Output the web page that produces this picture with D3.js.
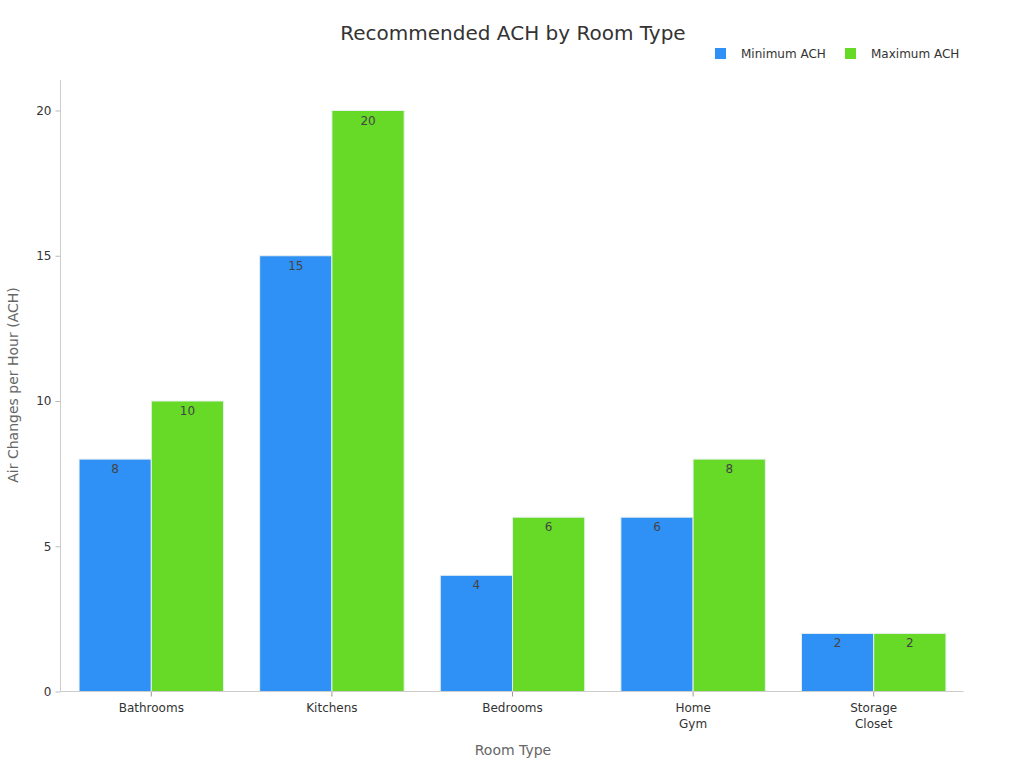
<!DOCTYPE html>
<html><head><meta charset="utf-8">
<script src="https://cdn.jsdelivr.net/npm/d3@7"></script>
<style>body{margin:0;background:#fff;font-family:"DejaVu Sans",sans-serif;}</style>
</head><body>
<svg id="c" width="1024" height="768"></svg>
<script>
const categories = ["Bathrooms", "Kitchens", "Bedrooms", "Home\nGym", "Storage\nCloset"];
const seriesNames = ["Minimum ACH", "Maximum ACH"];
const minACH = [8, 15, 4, 6, 2];
const maxACH = [10, 20, 6, 8, 2];
const yTicks = [0, 5, 10, 15, 20];
const colors = ["#2F91F5", "#66DA26"];

const svg = d3.select("#c");
const m = {l: 60.5, r: 963.5, t: 80, b: 691.5};
const x = d3.scaleBand().domain(categories).range([m.l + 0.5, m.r + 0.5]).paddingInner(0.2).paddingOuter(0.1);
const x1 = d3.scaleBand().domain(seriesNames).range([0, x.bandwidth()]);
const y = d3.scaleLinear().domain([0, 20]).range([m.b, 110.5]);

const series = [minACH, maxACH];
const g = svg.append("g");
series.forEach((vals, si) => {
  g.selectAll(".b" + si).data(vals).enter().append("rect")
    .attr("x", (d, i) => x(categories[i]) + x1(seriesNames[si]))
    .attr("y", d => y(d))
    .attr("width", x1.bandwidth())
    .attr("height", d => y(0) - y(d))
    .attr("fill", colors[si])
    .attr("stroke", "#e8f0f0").attr("stroke-width", 1);
  g.selectAll(".t" + si).data(vals).enter().append("text")
    .attr("x", (d, i) => x(categories[i]) + x1(seriesNames[si]) + x1.bandwidth() / 2)
    .attr("y", d => y(d) + 14)
    .attr("text-anchor", "middle").attr("font-size", 12).attr("fill", "#444")
    .text(d => d);
});

// Y axis
const ya = svg.append("g").attr("transform", `translate(${m.l},0)`)
  .call(d3.axisLeft(y).tickValues(yTicks).tickSize(5).tickPadding(4));
ya.select(".domain").remove();
ya.selectAll(".tick line").attr("stroke", "#bbb");
ya.selectAll(".tick text").attr("font-size", 12).attr("fill", "#333").attr("font-family", "DejaVu Sans");
svg.append("line").attr("x1", m.l).attr("x2", m.l).attr("y1", m.t).attr("y2", m.b).attr("stroke", "#ccc");

// X axis
const xa = svg.append("g").attr("transform", `translate(0,${m.b})`)
  .call(d3.axisBottom(x).tickSize(5).tickFormat(""));
xa.select(".domain").remove();
xa.selectAll(".tick line").attr("stroke", "#999");
svg.append("line").attr("x1", m.l).attr("x2", m.r).attr("y1", m.b).attr("y2", m.b).attr("stroke", "#ccc");
categories.forEach(c => {
  const t = svg.append("text").attr("x", x(c) + x.bandwidth() / 2).attr("y", 712)
    .attr("text-anchor", "middle").attr("font-size", 12).attr("fill", "#333");
  c.split("\n").forEach((line, k) => {
    t.append("tspan").attr("x", x(c) + x.bandwidth() / 2).attr("dy", k ? 16 : 0).text(line);
  });
});

// Titles
svg.append("text").attr("x", 513).attr("y", 40).attr("text-anchor", "middle")
  .attr("font-size", 20).attr("fill", "#333").text("Recommended ACH by Room Type");
svg.append("text").attr("x", 513).attr("y", 755).attr("text-anchor", "middle")
  .attr("font-size", 14).attr("fill", "#666").text("Room Type");
svg.append("text").attr("transform", "translate(18,385) rotate(-90)").attr("text-anchor", "middle")
  .attr("font-size", 14).attr("fill", "#666").text("Air Changes per Hour (ACH)");

// Legend
const legX = [715, 845];
seriesNames.forEach((n, i) => {
  svg.append("rect").attr("x", legX[i]).attr("y", 48).attr("width", 11).attr("height", 11).attr("fill", colors[i]);
  svg.append("text").attr("x", legX[i] + 26).attr("y", 58).attr("font-size", 12).attr("fill", "#333").text(n);
});
</script>
</body></html>
